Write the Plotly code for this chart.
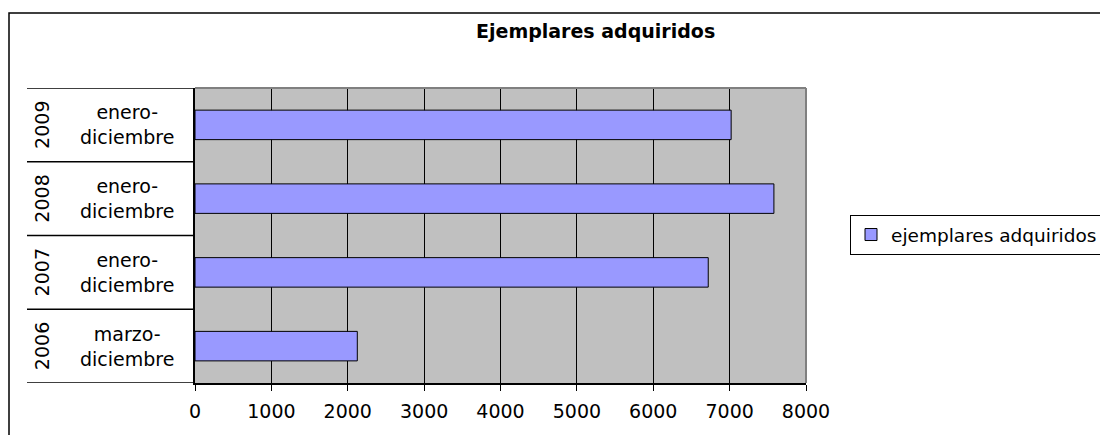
import plotly.graph_objects as go

years = ["2006", "2007", "2008", "2009"]
periods = ["marzo-<br>diciembre", "enero-<br>diciembre", "enero-<br>diciembre", "enero-<br>diciembre"]
values = [2125, 6720, 7580, 7020]
series_name = "ejemplares adquiridos"
title = "Ejemplares adquiridos"
x_ticks = [0, 1000, 2000, 3000, 4000, 5000, 6000, 7000, 8000]

cats = [y + " " + p for y, p in zip(years, periods)]

# page body has an 8px margin; geometry below is expressed in screen pixels
OFF = 8
PL, PR, PT, PB = 195, 806, 88, 383          # plot area in screen px
W, H = 1100, 427
L, T = PL - OFF, PT - OFF
R = W - (PR - OFF)
B = H - (PB - OFF)
pw, ph = PR - PL, PB - PT

def px2x(sx):
    return (sx - PL) / pw

def py2y(sy):
    return (PB - sy) / ph

FONT = "DejaVu Sans, Verdana, sans-serif"
FS = 19

fig = go.Figure()
fig.add_trace(go.Bar(
    y=cats, x=values, orientation="h", name=series_name,
    marker=dict(color="#9999FF", line=dict(color="black", width=1)),
    width=0.4, showlegend=True,
))

annotations = []
for c, yr, p in zip(cats, years, periods):
    annotations.append(dict(x=px2x(42), y=c, xref="paper", yref="y", text=yr,
                            textangle=-90, showarrow=False,
                            xanchor="center", yanchor="middle",
                            font=dict(family=FONT, size=FS, color="black")))
    annotations.append(dict(x=px2x(127), y=c, xref="paper", yref="y", text=p,
                            showarrow=False, align="center",
                            xanchor="center", yanchor="middle",
                            font=dict(family=FONT, size=FS, color="black")))
annotations.append(dict(x=px2x(595), y=py2y(31), xref="paper", yref="paper",
                        text="<b>" + title + "</b>", showarrow=False,
                        xanchor="center", yanchor="middle",
                        font=dict(family=FONT, size=19, color="black")))

shapes = []
# category dividers in the left label area
for k in range(len(cats) + 1):
    shapes.append(dict(type="line", xref="paper", yref="y",
                       x0=px2x(27), x1=0, y0=k - 0.5, y1=k - 0.5,
                       line=dict(color="black", width=1.5)))
# plot area border (gray top/right)
shapes.append(dict(type="line", xref="paper", yref="paper", x0=0, x1=1, y0=1, y1=1,
                   line=dict(color="#808080", width=2)))
shapes.append(dict(type="line", xref="paper", yref="paper", x0=1, x1=1, y0=0, y1=1,
                   line=dict(color="#808080", width=2)))
# outer chart frame
shapes.append(dict(type="rect", xref="paper", yref="paper",
                   x0=px2x(9), x1=px2x(1140), y0=py2y(470), y1=py2y(13),
                   line=dict(color="black", width=1.5), layer="below"))

fig.update_layout(
    width=W, height=H,
    margin=dict(l=L, r=R, t=T, b=B, autoexpand=False),
    paper_bgcolor="white", plot_bgcolor="#C0C0C0",
    font=dict(family=FONT, size=FS, color="black"),
    xaxis=dict(range=[0, 8000], tickvals=x_ticks, showgrid=True, gridcolor="black",
               gridwidth=1, showline=True, linecolor="black", linewidth=1.5,
               ticks="outside", ticklen=6, tickcolor="black", zeroline=False,
               ticklabelstandoff=4, tickfont=dict(size=FS), fixedrange=True),
    yaxis=dict(type="category", categoryorder="array", categoryarray=cats,
               range=[-0.5, 3.5], showticklabels=False, showgrid=False,
               showline=True, linecolor="black", linewidth=1.5, ticks="",
               zeroline=False, fixedrange=True),
    legend=dict(x=px2x(850), y=py2y(235), xanchor="left", yanchor="middle",
                bgcolor="white", bordercolor="black", borderwidth=1,
                font=dict(size=18.5), itemwidth=30, tracegroupgap=0),
    annotations=annotations, shapes=shapes, showlegend=True,
)

fig.write_html("out.html")
